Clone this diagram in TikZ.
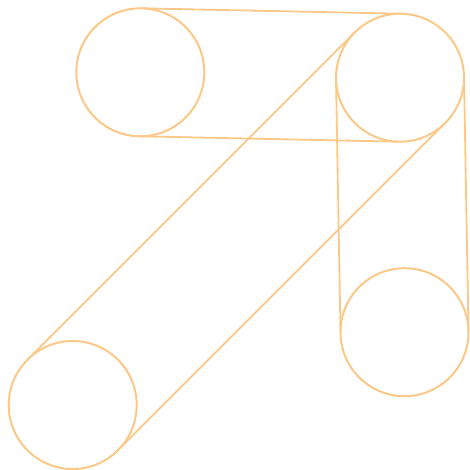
\documentclass[tikz,border=0pt]{standalone}
\usetikzlibrary{calc}
\definecolor{belt}{RGB}{252,200,136}
\begin{document}
\begin{tikzpicture}[x=1pt,y=-1pt,
  pulley/.style={circle,draw=belt,line width=2pt,minimum size=128pt,inner sep=0pt},
  beltline/.style={draw=belt,line width=1.8pt}]
\useasboundingbox (0,0) rectangle (469,470);
\node[pulley] (A) at (140.3,72.3) {};
\node[pulley] (B) at (400,77.7) {};
\node[pulley] (C) at (404.5,332.2) {};
\node[pulley] (D) at (72.7,405) {};
% A--B belt
\draw[beltline] ($(A.center)!64pt!90:(B.center)$) -- ($(B.center)!64pt!-90:(A.center)$);
\draw[beltline] ($(A.center)!64pt!-90:(B.center)$) -- ($(B.center)!64pt!90:(A.center)$);
% B--C belt
\draw[beltline] ($(B.center)!64pt!90:(C.center)$) -- ($(C.center)!64pt!-90:(B.center)$);
\draw[beltline] ($(B.center)!64pt!-90:(C.center)$) -- ($(C.center)!64pt!90:(B.center)$);
% D--B belt
\draw[beltline] ($(D.center)!64pt!90:(B.center)$) -- ($(B.center)!64pt!-90:(D.center)$);
\draw[beltline] ($(D.center)!64pt!-90:(B.center)$) -- ($(B.center)!64pt!90:(D.center)$);
\end{tikzpicture}
\end{document}
